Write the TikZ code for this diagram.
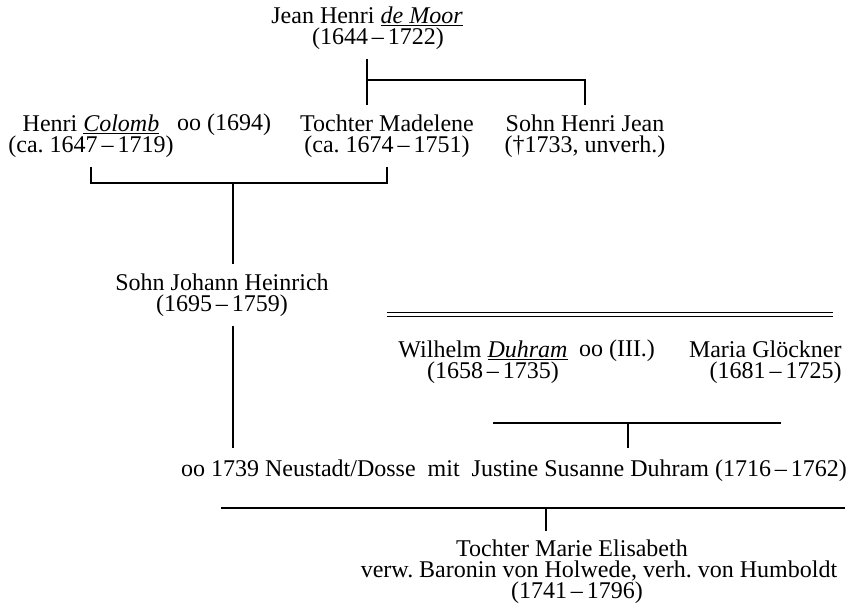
\documentclass[tikz,border=0pt]{standalone}
\usepackage{fontspec}
\setmainfont{Liberation Serif}
\tikzset{
person/.style={
  inner xsep=0pt,
  inner ysep=4.5pt,
  align=center,
  font=\fontsize{12}{10.5}\selectfont
  },
note/.style={
  inner xsep=0pt,
  inner ysep=4.5pt,
  anchor=base,
  font=\fontsize{12}{10.5}\selectfont
  },
line/.style={draw, line width=0.6pt}
}
\newcommand{\surname}[1]{\setbox0=\hbox{\itshape #1}\rlap{\rule[-1.1pt]{\wd0}{0.45pt}}\box0}

\begin{document}
\begin{tikzpicture}[x=0.5pt, y=-0.5pt]
\useasboundingbox (0,0) rectangle (852,614);

% de Moor
\node[person]	(jean)		at (367,28)		{Jean Henri \surname{de Moor}\\\hspace*{11pt}(1644\,--\,1722)};
\node[person]	(colomb)	at (91,136)		{Henri \surname{Colomb}\\(ca.\ 1647\,--\,1719)};
\node[note]	(oo1694)	at (224,131)		{oo (1694)};
\node[person]	(madelene)	at (387,136)		{Tochter Madelene\\(ca.\ 1674\,--\,1751)};
\node[person]	(henrijean)	at (585,136)		{Sohn Henri Jean\\(†1733, unverh.)};
\node[person]	(johann)	at (222,295)		{Sohn Johann Heinrich\\(1695\,--\,1759)};

% Duhram
\node[person]	(wilhelm)	at (483,362)		{Wilhelm \surname{Duhram}\\\hspace*{10pt}(1658\,--\,1735)};
\node[note]	(ooIII)		at (617,357)		{oo (III.)};
\node[person, anchor=east, align=right]	(maria)	at (842,362)	{Maria Glöckner\\(1681\,--\,1725)};
\node[note, inner ysep=6pt]	(justine)	at (514,477)	{oo 1739 Neustadt/Dosse\ \ mit\ \ Justine Susanne Duhram (1716\,--\,1762)};
\node[person]	(marie)		at (599,572)		{Tochter Marie Elisabeth\hspace*{27pt}\\verw.\ Baronin von Holwede, verh.\ von Humboldt\\(1741\,--\,1796)\hspace*{22pt}};

\coordinate (moorkids) at (367,80);
\coordinate (marriage1) at (233,183);
\coordinate (sepstart) at (387,314.5);
\coordinate (sepend) at (833,314.5);
\coordinate (duhbusL) at (493,423);
\coordinate (duhbusR) at (781,423);
\coordinate (duhbus) at (628,423);
\coordinate (kidbusL) at (221,508);
\coordinate (kidbusR) at (845,508);
\coordinate (kidbus) at (546,508);

\draw[line] (jean) -- (moorkids |- madelene.north);
\draw[line] (moorkids) -| (henrijean.north);
\draw[line] (colomb.south) |- (marriage1) -| (madelene.south);
\draw[line] (marriage1) -- (marriage1 |- johann.north);
\draw[line] (marriage1 |- johann.south) -- (marriage1 |- justine.north);
\draw[line, line width=0.5pt, double, double distance=1.1pt] (sepstart) -- (sepend);
\draw[line] (duhbusL) -- (duhbusR);
\draw[line] (duhbus) -- (duhbus |- justine.north);
\draw[line] (kidbusL) -- (kidbusR);
\draw[line] (kidbus) -- (kidbus |- marie.north);
\end{tikzpicture}
\end{document}
